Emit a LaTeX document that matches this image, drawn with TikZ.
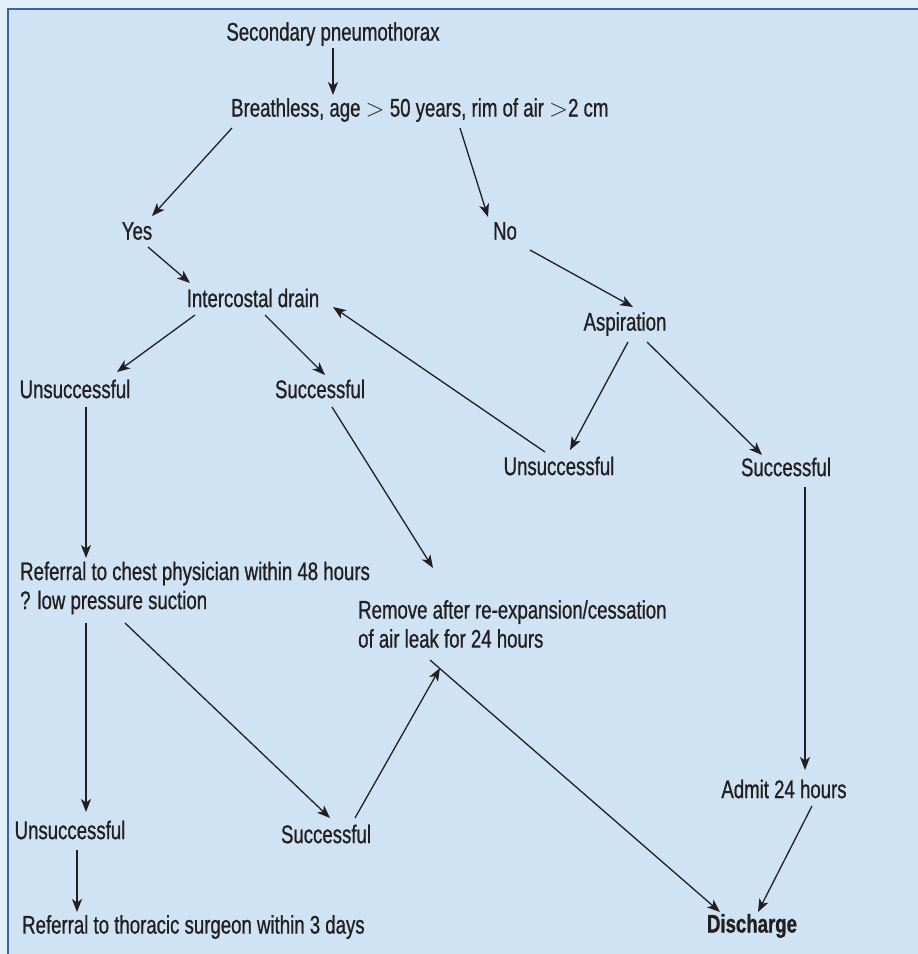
\documentclass[tikz,border=0pt]{standalone}
\usepackage{fontspec}
\setmainfont{Liberation Sans}[FakeStretch=0.73,FakeBold=0.8]
\usetikzlibrary{arrows.meta,calc}
\definecolor{outerbg}{HTML}{E4F0F9}
\definecolor{innerbg}{HTML}{CFE3F4}
\definecolor{framec}{HTML}{3A64A8}
\definecolor{ink}{HTML}{231F20}
\begin{document}
\begin{tikzpicture}[x=1pt,y=-1pt,
  lbl/.style={inner sep=0pt,text=ink,font=\fontsize{25.5}{29}\selectfont},
  lbll/.style={lbl,anchor=west,align=left},
  arr/.style={draw=ink,line width=1.3pt,-{Stealth[length=13pt,width=10pt,inset=3.5pt]}}]
\useasboundingbox (0,0) rectangle (918,954);
\fill[outerbg] (0,0) rectangle (918,954);
\fill[innerbg,draw=framec,line width=2pt] (8,9) rectangle (930,970);
% nodes
\node[lbl] (sec) at (333,34) {Secondary pneumothorax};
\node[lbll] (br) at (231,110) {Breathless, age ${>}$ 50 years, rim of air ${>}$2 cm};
\node[lbl] (yes) at (137,231) {Yes};
\node[lbl] (no) at (505,231) {No};
\node[lbl] (ic) at (253,298) {Intercostal drain};
\node[lbl] (asp) at (625,324) {Aspiration};
\node[lbl] (uns1) at (75,389) {Unsuccessful};
\node[lbl] (suc1) at (320,389) {Successful};
\node[lbl] (uns2) at (559,466) {Unsuccessful};
\node[lbl] (suc2) at (786,467) {Successful};
\node[lbll] (ref) at (20,588) {Referral to chest physician within 48 hours\\? low pressure suction};
\node[lbll] (rem) at (358,624) {Remove after re-expansion/cessation\\of air leak for 24 hours};
\node[lbl] (uns3) at (70,830) {Unsuccessful};
\node[lbl] (suc3) at (326,834) {Successful};
\node[lbl] (adm) at (784,789) {Admit 24 hours};
\node[lbl,font=\fontsize{25.5}{29}\selectfont\bfseries] (dis) at (752,926) {Discharge};
\node[lbll] (thor) at (22,927) {Referral to thoracic surgeon within 3 days};
% connectors
\draw[arr] ($(sec)+(0,14)$) -- ($(br.west)+(102,-15)$);
\draw[arr] ($(br.west)+(1,18)$) -- ($(yes)+(15,-15)$);
\draw[arr] ($(br.west)+(229,18)$) -- ($(no)+(-17,-14)$);
\draw[arr] ($(yes)+(11,16)$) -- ($(ic)+(-63,-15)$);
\draw[arr] ($(no)+(25,19)$) -- ($(asp)+(8,-17)$);
\draw[arr] ($(ic)+(-58,17)$) -- ($(uns1)+(42,-17)$);
\draw[arr] ($(ic)+(12,17)$) -- ($(suc1)+(5,-14)$);
\draw[arr] ($(uns2)+(-14,-14)$) -- ($(ic)+(80,9)$);
\draw[arr] ($(asp)+(3,18)$) -- ($(uns2)+(11,-16)$);
\draw[arr] ($(asp)+(22,18)$) -- ($(suc2)+(-24,-12)$);
\draw[arr] ($(uns1)+(11,18)$) -- ($(ref.west)+(66,-30)$);
\draw[arr] ($(suc1)+(12,18)$) -- ($(rem.west)+(75,-56)$);
\draw[arr] ($(ref.west)+(66,35)$) -- ($(uns3)+(16,-18)$);
\draw[arr] ($(ref.west)+(105,35)$) -- ($(suc3)+(4,-16)$);
\draw[arr] ($(suc3)+(29,-16)$) -- ($(rem.west)+(82,44)$);
\draw[arr] ($(rem.west)+(72,36)$) -- ($(dis)+(-32,-14)$);
\draw[arr] ($(suc2)+(19,20)$) -- ($(adm)+(21,-19)$);
\draw[arr] ($(adm)+(28,17)$) -- ($(dis)+(6,-14)$);
\draw[arr] ($(uns3)+(7,20)$) -- ($(thor.west)+(55,-15)$);
\end{tikzpicture}
\end{document}
